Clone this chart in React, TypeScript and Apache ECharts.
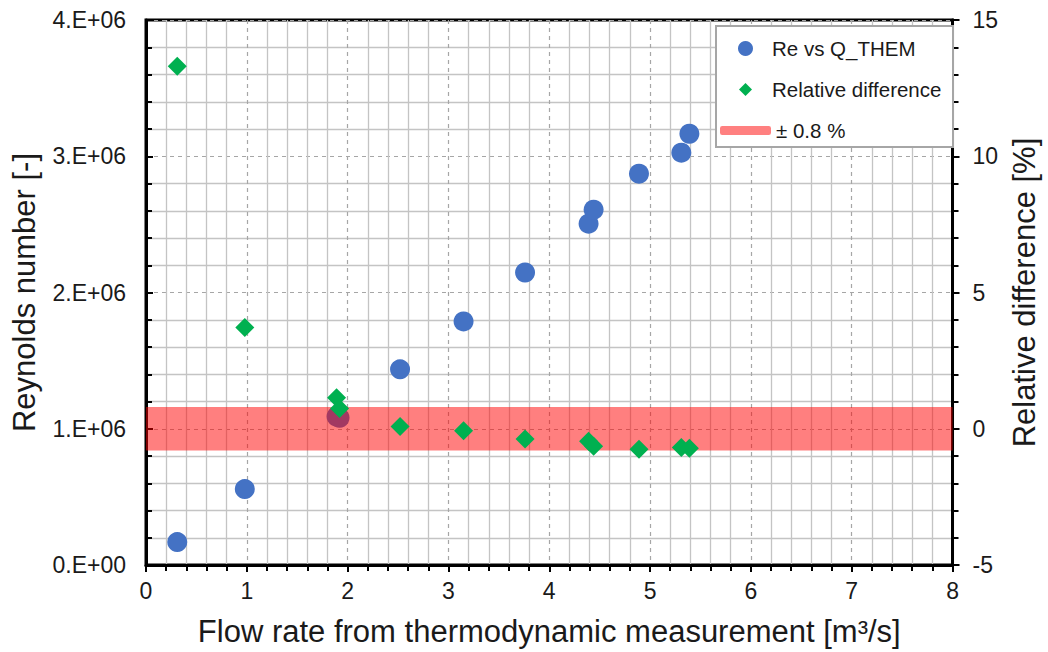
import React, { useEffect, useRef } from "react";
import * as echarts from "echarts";

// Flow rate from thermodynamic measurement [m³/s]
const flowRate = [0.31, 0.98, 1.89, 1.92, 2.52, 3.15, 3.76, 4.39, 4.44, 4.89, 5.31, 5.39];
// Reynolds number [-]
const reynolds = [1.68e5, 5.57e5, 1.09e6, 1.08e6, 1.436e6, 1.788e6, 2.147e6, 2.505e6, 2.608e6, 2.872e6, 3.026e6, 3.165e6];
// Relative difference [%]
const relDiff = [13.3, 3.72, 1.14, 0.74, 0.08, -0.07, -0.38, -0.46, -0.64, -0.75, -0.69, -0.72];
// Tolerance band ±0.8 %
const bandLimit = 0.8;
const xRange = [0, 8];

const seriesNames = ["Re vs Q_THEM", "Relative difference", "± 0.8 %"];

const FONT = "Liberation Sans, Arial, sans-serif";

export default function App() {
  const ref = useRef<HTMLDivElement>(null);
  useEffect(() => {
    if (!ref.current) return;
    const chart = echarts.init(ref.current, undefined, { renderer: "svg" });
    const reData = flowRate.map((x, i) => [x, reynolds[i]]);
    const rdData = flowRate.map((x, i) => [x, relDiff[i]]);
    const legendText = { fontFamily: FONT, fontSize: 20.5, color: "#1a1a1a" };
    const titleStyle = { fontFamily: FONT, fontSize: 31, color: "#1a1a1a" };
    const tickLabel = { fontFamily: FONT, fontSize: 23, color: "#1a1a1a" };
    chart.setOption({
      animation: false,
      backgroundColor: "#fff",
      grid: {
        left: 146,
        right: 91,
        top: 20,
        bottom: 86,
        show: true,
        borderColor: "#000",
        borderWidth: 3,
        backgroundColor: "transparent",
      },
      xAxis: {
        type: "value",
        min: xRange[0],
        max: xRange[1],
        interval: 1,
        name: "Flow rate from thermodynamic measurement [m³/s]",
        nameLocation: "middle",
        nameGap: 51,
        nameTextStyle: titleStyle,
        axisLine: { lineStyle: { color: "#000", width: 3 } },
        axisTick: { show: true, length: 7, lineStyle: { color: "#000", width: 2 } },
        minorTick: { show: true, splitNumber: 5, length: 6, lineStyle: { color: "#000", width: 2 } },
        axisLabel: { ...tickLabel, margin: 14 },
        splitLine: { show: true, lineStyle: { color: "#a6a6a6", width: 1.2, type: [4, 4] } },
        minorSplitLine: { show: true, lineStyle: { color: "#c4c4c4", width: 1.3 } },
      },
      yAxis: [
        {
          type: "value",
          min: 0,
          max: 4e6,
          interval: 1e6,
          name: "Reynolds number [-]",
          nameLocation: "middle",
          nameGap: 106,
          nameTextStyle: titleStyle,
          axisLine: { show: true, lineStyle: { color: "#000", width: 3 } },
          axisTick: { show: true, inside: true, length: 7, lineStyle: { color: "#000", width: 2 } },
          minorTick: { show: true, splitNumber: 5, length: 6, lineStyle: { color: "#000", width: 2 } },
          axisLabel: {
            ...tickLabel,
            margin: 20,
            formatter: (v: number) => (v === 0 ? "0.E+00" : `${Math.round(v / 1e6)}.E+06`),
          },
          splitLine: { show: true, lineStyle: { color: "#a6a6a6", width: 1.2, type: [4, 4] } },
          minorSplitLine: { show: true, lineStyle: { color: "#c4c4c4", width: 1.3 } },
        },
        {
          type: "value",
          min: -5,
          max: 15,
          interval: 5,
          position: "right",
          name: "Relative difference [%]",
          nameLocation: "middle",
          nameGap: 54,
          nameTextStyle: titleStyle,
          axisLine: { show: true, lineStyle: { color: "#000", width: 3 } },
          axisTick: { show: true, length: 7, lineStyle: { color: "#000", width: 2 } },
          minorTick: { show: true, splitNumber: 5, length: 6, lineStyle: { color: "#000", width: 2 } },
          axisLabel: { ...tickLabel, margin: 20 },
          splitLine: { show: false },
          minorSplitLine: { show: false },
        },
      ],
      legend: [
        {
          data: [{ name: seriesNames[0], icon: "circle" }],
          left: 738,
          top: 38,
          padding: 0,
          itemWidth: 15,
          itemHeight: 15,
          textStyle: { ...legendText, padding: [0, 0, 0, 14] },
          z: 10,
        },
        {
          data: [{ name: seriesNames[1], icon: "diamond" }],
          left: 739,
          top: 79,
          padding: 0,
          itemWidth: 13,
          itemHeight: 13,
          textStyle: { ...legendText, padding: [0, 0, 0, 15] },
          z: 10,
        },
        {
          data: [{ name: seriesNames[2], icon: "roundRect" }],
          left: 720,
          top: 120,
          padding: 0,
          itemWidth: 51,
          itemHeight: 9,
          textStyle: { ...legendText },
          z: 10,
        },
      ],
      graphic: [
        {
          type: "rect",
          left: 715,
          top: 25,
          shape: { width: 237, height: 121 },
          style: { fill: "#fff", stroke: "#a6a6a6", lineWidth: 2 },
          z: 5,
        },
      ],
      series: [
        {
          name: seriesNames[0],
          type: "scatter",
          yAxisIndex: 0,
          data: reData,
          symbol: "circle",
          symbolSize: 20,
          itemStyle: { color: "#4472c4", opacity: 1 },
          z: 2,
        },
        {
          name: seriesNames[2],
          type: "line",
          yAxisIndex: 1,
          data: [],
          itemStyle: { color: "#ff8080" },
          lineStyle: { color: "#ff8080" },
          z: 3,
          markArea: {
            silent: true,
            z: 3,
            itemStyle: { color: "rgba(255,0,0,0.5)" },
            data: [[{ xAxis: xRange[0], yAxis: -bandLimit }, { xAxis: xRange[1], yAxis: bandLimit }]],
          },
        },
        {
          name: seriesNames[1],
          type: "scatter",
          yAxisIndex: 1,
          data: rdData,
          symbol: "diamond",
          symbolSize: 19,
          itemStyle: { color: "#00b050", opacity: 1 },
          z: 4,
        },
      ],
    });
    return () => chart.dispose();
  }, []);
  return <div ref={ref} style={{ width: 1048, height: 652, position: "absolute", left: 0, top: 0 }} />;
}
